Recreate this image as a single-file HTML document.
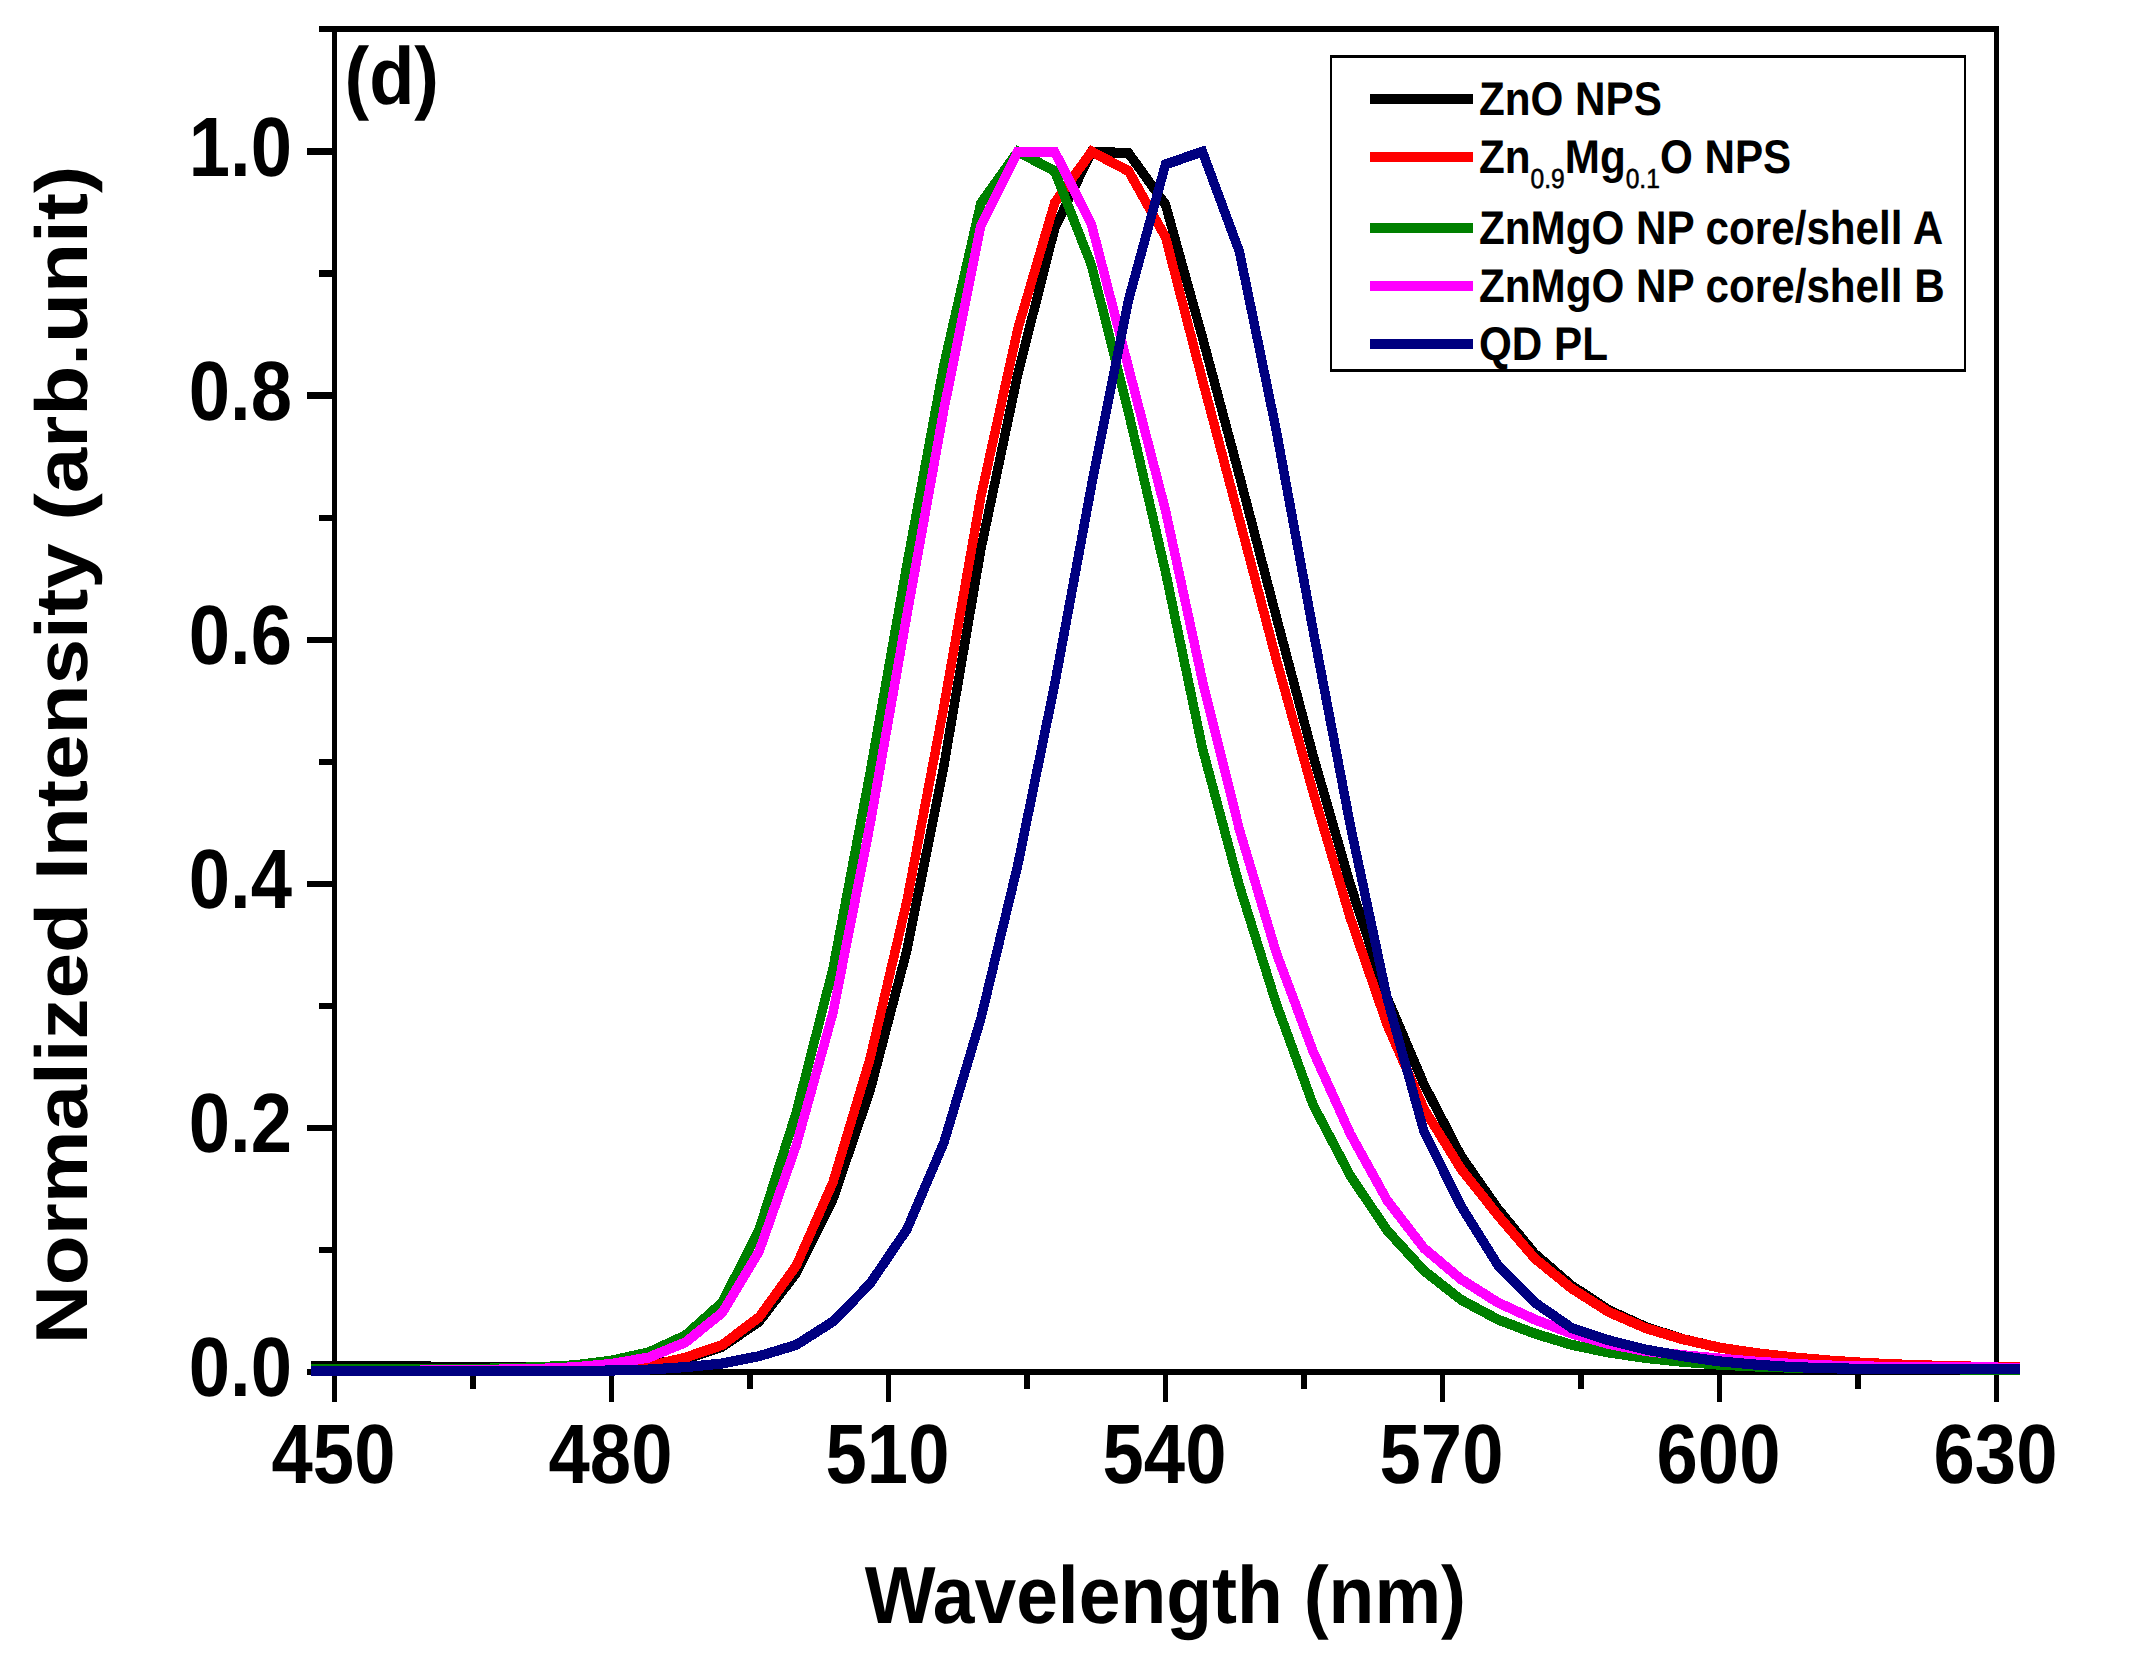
<!DOCTYPE html>
<html lang="en"><head><meta charset="utf-8"><title>Normalized Intensity vs Wavelength (d)</title>
<style>html,body{margin:0;padding:0;background:#fff;}body{width:2131px;height:1659px;overflow:hidden;}svg{display:block;}text{font-family:'Liberation Sans', Arial, Helvetica, sans-serif;fill:#000;}</style></head><body>
<svg width="2131" height="1659" viewBox="0 0 2131 1659" text-rendering="geometricPrecision">
<rect x="0" y="0" width="2131" height="1659" fill="#fff"/>
<g fill="#000" shape-rendering="crispEdges">
<rect x="319.00" y="26.25" width="1680.00" height="5.70"/>
<rect x="319.00" y="1369.20" width="1680.00" height="5.70"/>
<rect x="331.95" y="26.25" width="5.10" height="1348.65"/>
<rect x="1993.95" y="26.25" width="5.10" height="1348.65"/>
<rect x="331.75" y="1372.05" width="5.50" height="29.75"/>
<rect x="470.25" y="1372.05" width="5.50" height="16.75"/>
<rect x="608.75" y="1372.05" width="5.50" height="29.75"/>
<rect x="747.25" y="1372.05" width="5.50" height="16.75"/>
<rect x="885.75" y="1372.05" width="5.50" height="29.75"/>
<rect x="1024.25" y="1372.05" width="5.50" height="16.75"/>
<rect x="1162.75" y="1372.05" width="5.50" height="29.75"/>
<rect x="1301.25" y="1372.05" width="5.50" height="16.75"/>
<rect x="1439.75" y="1372.05" width="5.50" height="29.75"/>
<rect x="1578.25" y="1372.05" width="5.50" height="16.75"/>
<rect x="1716.75" y="1372.05" width="5.50" height="29.75"/>
<rect x="1855.25" y="1372.05" width="5.50" height="16.75"/>
<rect x="1993.75" y="1372.05" width="5.50" height="29.75"/>
<rect x="307.00" y="1368.80" width="27.50" height="6.40"/>
<rect x="319.00" y="1246.76" width="15.50" height="6.40"/>
<rect x="307.00" y="1124.72" width="27.50" height="6.40"/>
<rect x="319.00" y="1002.68" width="15.50" height="6.40"/>
<rect x="307.00" y="880.64" width="27.50" height="6.40"/>
<rect x="319.00" y="758.60" width="15.50" height="6.40"/>
<rect x="307.00" y="636.56" width="27.50" height="6.40"/>
<rect x="319.00" y="514.52" width="15.50" height="6.40"/>
<rect x="307.00" y="392.48" width="27.50" height="6.40"/>
<rect x="319.00" y="270.44" width="15.50" height="6.40"/>
<rect x="307.00" y="148.40" width="27.50" height="6.40"/>
</g>
<g transform="scale(1 1.08)" fill="none" stroke-width="9.4" stroke-linejoin="miter" stroke-miterlimit="10" stroke-linecap="square" shape-rendering="crispEdges">
<polyline stroke="#000000" points="316.0,1264.72 353.0,1264.72 389.9,1264.72 426.8,1265.29 463.8,1265.85 500.7,1265.85 537.6,1265.85 574.6,1265.85 611.5,1265.29 648.4,1263.59 685.4,1258.51 722.3,1246.87 759.2,1223.59 796.2,1178.84 833.1,1109.91 870.0,1009.94 907.0,879.62 943.9,709.07 980.8,508.86 1017.8,346.33 1054.7,211.56 1091.6,140.37 1128.6,141.84 1165.5,189.41 1202.4,312.32 1239.4,440.27 1276.3,571.09 1313.2,699.89 1350.2,818.75 1387.1,923.68 1424.0,1004.14 1461.0,1070.36 1497.9,1119.29 1534.8,1160.99 1571.8,1190.48 1608.7,1213.08 1645.6,1228.67 1682.6,1239.86 1719.5,1247.77 1756.4,1252.97 1793.4,1256.81 1830.3,1259.86 1867.2,1262.12 1904.2,1263.59 1941.1,1264.72 1978.0,1265.51 2015.0,1265.85"/>
<polyline stroke="#FF0000" points="316.0,1268.11 353.0,1268.11 389.9,1268.11 426.8,1268.11 463.8,1268.11 500.7,1268.11 537.6,1268.11 574.6,1267.55 611.5,1266.98 648.4,1265.29 685.4,1257.04 722.3,1245.28 759.2,1219.52 796.2,1172.06 833.1,1094.43 870.0,980.41 907.0,833.87 943.9,654.12 980.8,459.98 1017.8,304.53 1054.7,187.83 1091.6,140.37 1128.6,158.45 1165.5,219.47 1202.4,351.85 1239.4,481.02 1276.3,610.66 1313.2,733.80 1350.2,849.72 1387.1,948.70 1424.0,1026.74 1461.0,1082.34 1497.9,1125.28 1534.8,1165.28 1571.8,1193.08 1608.7,1214.77 1645.6,1229.69 1682.6,1239.97 1719.5,1247.77 1756.4,1252.97 1793.4,1256.81 1830.3,1259.86 1867.2,1262.12 1904.2,1263.59 1941.1,1264.72 1978.0,1265.51 2015.0,1265.85"/>
<polyline stroke="#008000" points="316.0,1268.11 353.0,1268.11 389.9,1268.11 426.8,1268.11 463.8,1267.77 500.7,1266.98 537.6,1265.96 574.6,1264.16 611.5,1259.86 648.4,1252.29 685.4,1236.47 722.3,1205.96 759.2,1138.16 796.2,1030.26 833.1,896.40 870.0,716.08 907.0,522.64 943.9,337.92 980.8,188.17 1017.8,140.37 1054.7,158.45 1091.6,245.91 1128.6,382.09 1165.5,529.41 1202.4,692.82 1239.4,820.20 1276.3,929.45 1313.2,1023.24 1350.2,1088.44 1387.1,1139.29 1424.0,1176.58 1461.0,1203.47 1497.9,1221.78 1534.8,1234.78 1571.8,1245.28 1608.7,1252.29 1645.6,1257.38 1682.6,1260.88 1719.5,1263.59 1756.4,1265.29 1793.4,1266.42 1830.3,1266.98 1867.2,1267.32 1904.2,1267.55 1941.1,1267.88 1978.0,1268.11 2015.0,1268.11"/>
<polyline stroke="#FF00FF" points="316.0,1269.24 353.0,1269.24 389.9,1269.24 426.8,1269.01 463.8,1268.68 500.7,1268.11 537.6,1267.55 574.6,1265.96 611.5,1262.91 648.4,1257.04 685.4,1242.91 722.3,1215.45 759.2,1158.50 796.2,1060.73 833.1,937.24 870.0,763.86 907.0,568.94 943.9,379.18 980.8,209.30 1017.8,140.37 1054.7,140.37 1091.6,208.17 1128.6,340.64 1165.5,472.61 1202.4,630.14 1239.4,768.13 1276.3,882.20 1313.2,973.75 1350.2,1049.68 1387.1,1111.38 1424.0,1155.79 1461.0,1184.49 1497.9,1206.07 1534.8,1221.78 1571.8,1234.78 1608.7,1244.38 1645.6,1250.93 1682.6,1254.78 1719.5,1257.94 1756.4,1260.88 1793.4,1262.91 1830.3,1264.38 1867.2,1265.29 1904.2,1265.62 1941.1,1265.62 1978.0,1265.85 2015.0,1266.64"/>
<polyline stroke="#000080" points="316.0,1269.24 353.0,1269.24 389.9,1269.24 426.8,1269.24 463.8,1269.24 500.7,1269.24 537.6,1269.24 574.6,1269.24 611.5,1269.01 648.4,1268.11 685.4,1265.85 722.3,1262.46 759.2,1255.68 796.2,1245.28 833.1,1223.59 870.0,1188.67 907.0,1138.16 943.9,1057.93 980.8,943.42 1017.8,800.90 1054.7,633.65 1091.6,449.04 1128.6,277.53 1165.5,152.24 1202.4,140.37 1239.4,233.03 1276.3,398.77 1313.2,584.04 1350.2,763.69 1387.1,924.03 1424.0,1047.76 1461.0,1116.69 1497.9,1171.38 1534.8,1206.07 1571.8,1229.69 1608.7,1240.99 1645.6,1249.58 1682.6,1255.68 1719.5,1260.54 1756.4,1263.59 1793.4,1265.85 1830.3,1266.98 1867.2,1267.43 1904.2,1267.43 1941.1,1267.43 1978.0,1267.55 2015.0,1267.55"/>
</g>
<text transform="translate(344.50 104.20) scale(1 1.095)" font-size="74.0" font-weight="bold" text-anchor="start" >(d)</text>
<text transform="translate(292.00 1396.40) scale(1 1.135)" font-size="74.2" font-weight="bold" text-anchor="end" >0.0</text>
<text transform="translate(292.00 1152.32) scale(1 1.135)" font-size="74.2" font-weight="bold" text-anchor="end" >0.2</text>
<text transform="translate(292.00 908.24) scale(1 1.135)" font-size="74.2" font-weight="bold" text-anchor="end" >0.4</text>
<text transform="translate(292.00 664.16) scale(1 1.135)" font-size="74.2" font-weight="bold" text-anchor="end" >0.6</text>
<text transform="translate(292.00 420.08) scale(1 1.135)" font-size="74.2" font-weight="bold" text-anchor="end" >0.8</text>
<text transform="translate(292.00 176.00) scale(1 1.135)" font-size="74.2" font-weight="bold" text-anchor="end" >1.0</text>
<text transform="translate(333.50 1483.00) scale(1 1.135)" font-size="74.2" font-weight="bold" text-anchor="middle" >450</text>
<text transform="translate(610.50 1483.00) scale(1 1.135)" font-size="74.2" font-weight="bold" text-anchor="middle" >480</text>
<text transform="translate(887.50 1483.00) scale(1 1.135)" font-size="74.2" font-weight="bold" text-anchor="middle" >510</text>
<text transform="translate(1164.50 1483.00) scale(1 1.135)" font-size="74.2" font-weight="bold" text-anchor="middle" >540</text>
<text transform="translate(1441.50 1483.00) scale(1 1.135)" font-size="74.2" font-weight="bold" text-anchor="middle" >570</text>
<text transform="translate(1718.50 1483.00) scale(1 1.135)" font-size="74.2" font-weight="bold" text-anchor="middle" >600</text>
<text transform="translate(1995.50 1483.00) scale(1 1.135)" font-size="74.2" font-weight="bold" text-anchor="middle" >630</text>
<text transform="translate(1165.40 1623.00) scale(1 1.08)" font-size="75.0" font-weight="bold" text-anchor="middle" >Wavelength (nm)</text>
<text transform="translate(87.1 755) scale(1 1.113) rotate(-90)" font-size="73.6" font-weight="bold" text-anchor="middle">Normalized Intensity (arb.unit)</text>
<g shape-rendering="crispEdges"><rect x="1330" y="55" width="636" height="317" fill="#000"/><rect x="1332" y="58" width="632" height="311" fill="#fff"/></g>
<rect x="1369.7" y="94.10" width="103.3" height="10.0" fill="#000000" shape-rendering="crispEdges"/>
<text transform="translate(1479.00 114.60) scale(1 1.12)" font-size="42.2" font-weight="bold" text-anchor="start" >ZnO NPS</text>
<rect x="1369.7" y="152.00" width="103.3" height="10.0" fill="#FF0000" shape-rendering="crispEdges"/>
<text transform="translate(1479.00 172.90) scale(1 1.12)" font-size="42.2" font-weight="bold" text-anchor="start" >Zn<tspan font-size="24.6" font-weight="normal" stroke="#000" stroke-width="0.5" dy="13.75">0.9</tspan><tspan stroke="none" dy="-13.75">Mg</tspan><tspan font-size="24.6" font-weight="normal" stroke="#000" stroke-width="0.5" dy="13.75">0.1</tspan><tspan stroke="none" dy="-13.75">O NPS</tspan></text>
<rect x="1369.7" y="223.10" width="103.3" height="10.0" fill="#008000" shape-rendering="crispEdges"/>
<text transform="translate(1479.00 244.10) scale(1 1.12)" font-size="42.2" font-weight="bold" text-anchor="start" >ZnMgO NP core/shell A</text>
<rect x="1369.7" y="280.70" width="103.3" height="10.0" fill="#FF00FF" shape-rendering="crispEdges"/>
<text transform="translate(1479.00 301.50) scale(1 1.12)" font-size="42.2" font-weight="bold" text-anchor="start" >ZnMgO NP core/shell B</text>
<rect x="1369.7" y="339.20" width="103.3" height="10.0" fill="#000080" shape-rendering="crispEdges"/>
<text transform="translate(1479.00 359.60) scale(1 1.12)" font-size="42.2" font-weight="bold" text-anchor="start" >QD PL</text>
</svg></body></html>
